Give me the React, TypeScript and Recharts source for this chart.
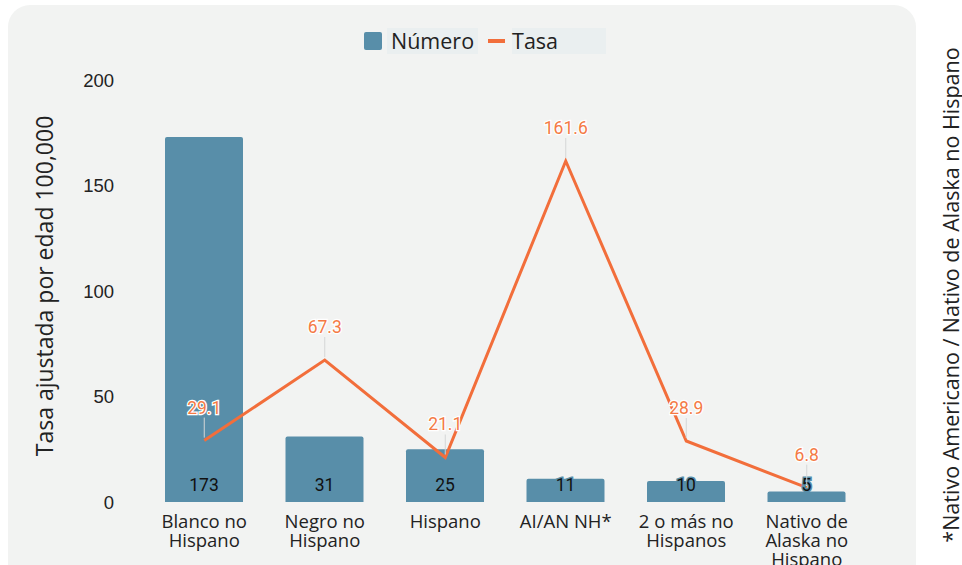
import * as React from "react";
import { Bar, ComposedChart, LabelList, Line, XAxis, YAxis, Label } from "recharts";

const categories = [
  "Blanco no Hispano",
  "Negro no Hispano",
  "Hispano",
  "AI/AN NH*",
  "2 o más no Hispanos",
  "Nativo de Alaska no Hispano",
];
const tickLines = [
  ["Blanco no", "Hispano"],
  ["Negro no", "Hispano"],
  ["Hispano"],
  ["AI/AN NH*"],
  ["2 o más no", "Hispanos"],
  ["Nativo de", "Alaska no", "Hispano"],
];
const numero = [173, 31, 25, 11, 10, 5];
const tasa = [29.1, 67.3, 21.1, 161.6, 28.9, 6.8];
const yTicks = [0, 50, 100, 150, 200];

const BLUE = "#588ea9";
const ORANGE = "#f26e3b";
const ORANGE_TXT = "#f47a45";
const PANEL = "#f2f3f2";
const TEXT = "#222";

const data = categories.map((c, i) => ({ cat: c, numero: numero[i], tasa: tasa[i] }));

function XTick(props: any) {
  const { x, y, payload } = props;
  const lines = tickLines[payload.index] ?? [payload.value];
  return (
    <g>
      {lines.map((ln, i) => (
        <text
          key={i}
          x={x}
          y={y + 10 + i * 19}
          textAnchor="middle"
          dominantBaseline="central"
          fontFamily="Open Sans"
          fontSize={18.5}
          fill={TEXT}
        >
          {ln}
        </text>
      ))}
    </g>
  );
}

function BarValue(props: any) {
  const { x, y, width, height, value } = props;
  return (
    <text
      x={x + width / 2}
      y={y + height - 17}
      textAnchor="middle"
      dominantBaseline="central"
      fontFamily="Roboto"
      fontSize={17.5}
      fill="#111"
      stroke={BLUE}
      strokeWidth={3}
      paintOrder="stroke"
    >
      {value}
    </text>
  );
}

function LineValue(props: any) {
  const { x, y, value } = props;
  return (
    <g>
      <line x1={x} y1={y - 3} x2={x} y2={y - 23} stroke="#d4d6d6" strokeWidth={1} />
      <text
        x={x}
        y={y - 33}
        textAnchor="middle"
        dominantBaseline="central"
        fontFamily="Roboto"
        fontSize={17.5}
        fill={ORANGE_TXT}
        stroke="#fff"
        strokeWidth={2.5}
        paintOrder="stroke"
      >
        {value}
      </text>
    </g>
  );
}

export default function App() {
  return (
    <div style={{ position: "absolute", left: 0, top: 0, width: 962, height: 565, background: "#fff", overflow: "hidden" }}>
      <div
        style={{
          position: "absolute",
          left: 8,
          top: 5,
          width: 908,
          height: 580,
          borderRadius: 22,
          background: PANEL,
        }}
      />
      <div
        style={{
          position: "absolute",
          left: 364,
          top: 28,
          display: "flex",
          alignItems: "center",
          fontFamily: "Open Sans",
          fontSize: 21.5,
          lineHeight: "26px",
          color: TEXT,
        }}
      >
        <span style={{ width: 18, height: 18, background: BLUE, borderRadius: 2, display: "inline-block" }} />
        <span style={{ marginLeft: 5, padding: "0 4px", background: "#eaeff0" }}>Número</span>
        <span style={{ width: 17, height: 4, background: ORANGE, display: "inline-block", marginLeft: 10 }} />
        <span style={{ marginLeft: 7, paddingRight: 48, background: "#eaeff0" }}>Tasa</span>
      </div>
      <div style={{ position: "absolute", left: 0, top: 0 }}>
        <ComposedChart width={962} height={565} data={data} margin={{ top: 80, right: 95, left: 84, bottom: 3 }}>
          <XAxis dataKey="cat" height={60} axisLine={false} tickLine={false} interval={0} tick={<XTick />} />
          <YAxis
            width={60}
            domain={[0, 200]}
            ticks={yTicks}
            axisLine={false}
            tickLine={false}
            tick={{ fill: TEXT, fontSize: 18.5, fontFamily: "Liberation Sans", dx: -22 }}
          >
            <Label
              content={() => (
                <text
                  x={44}
                  y={286}
                  transform="rotate(-90 44 286)"
                  textAnchor="middle"
                  dominantBaseline="central"
                  fontFamily="Open Sans"
                  fontSize={23}
                  fill={TEXT}
                >
                  Tasa ajustada por edad 100,000
                </text>
              )}
            />
          </YAxis>
          <Bar dataKey="numero" name="Número" fill={BLUE} barSize={78} radius={[2, 2, 0, 0]} isAnimationActive={false}>
            <LabelList dataKey="numero" content={<BarValue />} />
          </Bar>
          <Line
            type="linear"
            dataKey="tasa"
            name="Tasa"
            stroke={ORANGE}
            strokeWidth={3}
            dot={false}
            activeDot={false}
            isAnimationActive={false}
          >
            <LabelList dataKey="tasa" content={<LineValue />} />
          </Line>
        </ComposedChart>
      </div>
      <svg style={{ position: "absolute", left: 920, top: 0 }} width={42} height={565}>
        <text
          x={30}
          y={295}
          transform="rotate(-90 30 295)"
          textAnchor="middle"
          dominantBaseline="central"
          fontFamily="Open Sans"
          fontSize={21.5}
          fill={TEXT}
        >
          *Nativo Americano / Nativo de Alaska no Hispano
        </text>
      </svg>
    </div>
  );
}
